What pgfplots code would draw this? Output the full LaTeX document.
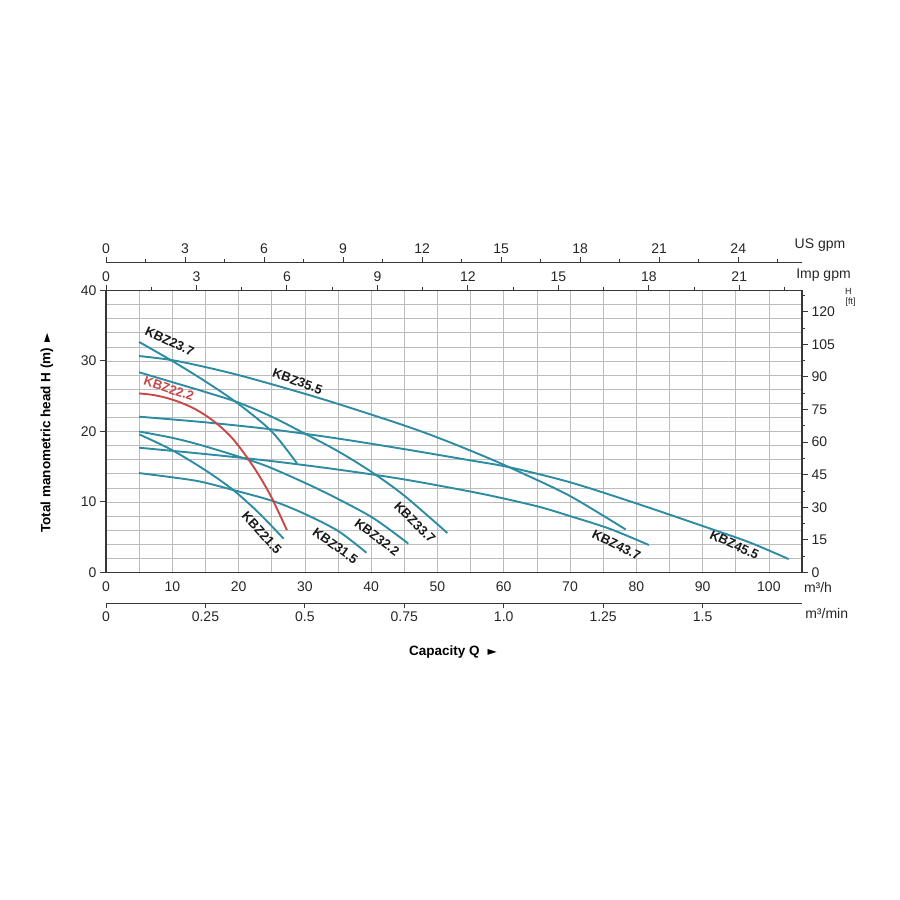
\documentclass[border=0pt]{standalone}
\usepackage{pgfplots}
\pgfplotsset{compat=1.18}
\usepackage{fontspec}
\setmainfont{Liberation Sans}
\newfontfamily\dejavu{DejaVu Sans}
\definecolor{teal2}{RGB}{45,140,162}
\definecolor{red2}{RGB}{200,72,72}
\definecolor{axisc}{RGB}{55,55,55}
\definecolor{gridc}{RGB}{188,188,188}
\newcommand{\fs}[1]{\fontsize{#1}{#1}\selectfont}
\begin{document}
\begin{tikzpicture}[x=1pt,y=1pt]
\path[use as bounding box] (0pt,0pt) rectangle (900pt,900pt);
\pgfplotsset{every axis/.append style={scale only axis,
  /pgf/number format/assume math mode=true,
  axis line style={draw=axisc, line width=1.3pt},
  tick style={draw=axisc, line width=1pt},
  tick label style={font=\fs{14}, text=black!85}}}

% ---------- main axis (m3/h , m) ----------
\begin{axis}[at={(106pt,327.5pt)}, anchor=south west, width=696pt, height=282pt,
  xmin=0, xmax=105, ymin=0, ymax=40,
  xtick={0,10,...,100}, ytick={0,10,...,40},
  minor xtick={5,15,...,105},
  minor ytick={2,4,6,8,12,14,16,18,22,24,26,28,32,34,36,38},
  grid=both, grid style={draw=gridc, line width=0.7pt},
  xtick pos=bottom, ytick pos=left, tick align=outside,
  major tick length=6pt, minor tick length=0pt,
  xtick style={draw=none},
  clip=false]
% KBZ23.7
\addplot[teal2, line width=1.9pt, smooth] coordinates {(5,32.7) (10,30.0) (15,27.1) (20,23.9) (25,20.0) (28.8,15.5)};
% KBZ35.5
\addplot[teal2, line width=1.9pt, smooth] coordinates {(5,30.7) (10.7,30.0) (20,28.0) (33,24.5) (47,20.2) (56.5,16.7) (63,14.0) (70.1,10.8) (78.4,6.1)};
% KBZ33.7
\addplot[teal2, line width=1.9pt, smooth] coordinates {(5,28.4) (10,27.0) (15,25.6) (20,24.1) (25,22.1) (30,19.7) (35,17.2) (40,14.3) (45,10.9) (51.5,5.6)};
% KBZ45.5
\addplot[teal2, line width=1.9pt, smooth] coordinates {(5,22.1) (15,21.3) (25,20.3) (35,19.0) (45,17.5) (55,15.9) (61,14.9) (70,12.8) (80,9.8) (90,6.6) (97,4.3) (103,1.9)};
% KBZ43.7
\addplot[teal2, line width=1.9pt, smooth] coordinates {(5,17.7) (15,16.8) (25,15.8) (35,14.6) (45,13.2) (56.5,11.2) (65,9.4) (70,8.0) (76,6.2) (81.9,3.9)};
% KBZ32.2
\addplot[teal2, line width=1.9pt, smooth] coordinates {(5,20.0) (10,19.1) (14.2,18.1) (20.5,16.3) (25,14.8) (32.3,11.7) (40,7.9) (45.6,4.1)};
% KBZ21.5
\addplot[teal2, line width=1.9pt, smooth] coordinates {(5,19.6) (9.9,17.4) (15,14.5) (19.2,11.7) (23,8.5) (26.8,4.8)};
% KBZ31.5
\addplot[teal2, line width=1.9pt, smooth] coordinates {(5,14.1) (10,13.5) (14.2,12.9) (19.2,11.7) (25.3,10.1) (30,8.3) (35,5.9) (39.3,2.8)};
% KBZ22.2
\addplot[red2, line width=1.9pt, smooth] coordinates {(5,25.4) (7,25.2) (9,24.8) (11,24.2) (13,23.4) (15,22.3) (17,20.9) (19,19.1) (21,16.7) (23,13.9) (25,10.6) (27.3,6.0)};

\begin{scope}[every node/.style={font=\fs{13}\bfseries, text=black!90, inner sep=0pt}]
\node[rotate=-25] at (axis cs:9.6,32.8) {KBZ23.7};
\node[rotate=-20] at (axis cs:28.9,27.1) {KBZ35.5};
\node[rotate=-19, text=red2] at (axis cs:9.5,26.1) {KBZ22.2};
\node[rotate=-48] at (axis cs:23.5,5.6) {KBZ21.5};
\node[rotate=-36] at (axis cs:34.6,3.8) {KBZ31.5};
\node[rotate=-37] at (axis cs:40.9,5.0) {KBZ32.2};
\node[rotate=-45] at (axis cs:46.6,7.1) {KBZ33.7};
\node[rotate=-26] at (axis cs:77.0,3.9) {KBZ43.7};
\node[rotate=-25] at (axis cs:94.8,3.9) {KBZ45.5};
\end{scope}
\end{axis}

% ---------- Imp gpm (top of box) ----------
\begin{axis}[at={(106pt,327.5pt)}, anchor=south west, width=696pt, height=282pt,
  xmin=0, xmax=23.08, ymin=0, ymax=1,
  axis x line*=top, axis y line=none,
  xtick={0,3,...,21}, minor xtick={1.5,4.5,...,22.5},
  tick align=outside, major tick length=5pt, minor tick length=3pt]
\end{axis}

% ---------- US gpm ----------
\begin{axis}[at={(106pt,637.7pt)}, anchor=north west, width=696pt, height=10pt,
  xmin=0, xmax=26.42, ymin=0, ymax=1,
  axis x line*=top, axis y line=none,
  xtick={0,3,...,24}, minor xtick={1.5,4.5,...,25.5},
  tick align=outside, major tick length=5pt, minor tick length=3pt]
\end{axis}

% ---------- m3/min ----------
\begin{axis}[at={(106pt,296.5pt)}, anchor=south west, width=696pt, height=10pt,
  xmin=0, xmax=1.75, ymin=0, ymax=1,
  axis x line*=bottom, axis y line=none,
  xtick={0,0.25,0.5,0.75,1,1.25,1.5},
  xticklabels={0,0.25,0.5,0.75,1.0,1.25,1.5},
  tick align=outside, major tick length=5pt]
\end{axis}

% ---------- ft (right) ----------
\begin{axis}[at={(106pt,327.5pt)}, anchor=south west, width=696pt, height=282pt,
  xmin=0, xmax=1, ymin=0, ymax=129.8,
  axis y line*=right, axis x line=none,
  ytick={0,15,...,120}, minor ytick={7.5,22.5,...,127.5},
  tick align=outside, major tick length=6pt, minor tick length=3pt]
\end{axis}

% ---------- texts ----------
\node[font=\fs{14}, text=black!85] at (820pt,655pt) {US gpm};
\node[font=\fs{14}, text=black!85] at (823.5pt,625pt) {Imp gpm};
\node[font=\fs{9}, text=black!85] at (848.3pt,609pt) {H};
\node[font=\fs{9}, text=black!85] at (850.7pt,598pt) {[ft]};
\node[font=\fs{14}, text=black!85] at (818pt,313pt) {m³/h};
\node[font=\fs{14}, text=black!85] at (826.7pt,287pt) {m³/min};
\node[font=\fs{13.5}\bfseries] at (453pt,248pt) {Capacity Q\hspace{8pt}{\dejavu\fs{12}►}};
\node[font=\fs{13.5}\bfseries, rotate=90] at (47pt,467pt) {Total manometric head H (m)\hspace{5pt}{\dejavu\fs{12}►}};
\end{tikzpicture}
\end{document}
